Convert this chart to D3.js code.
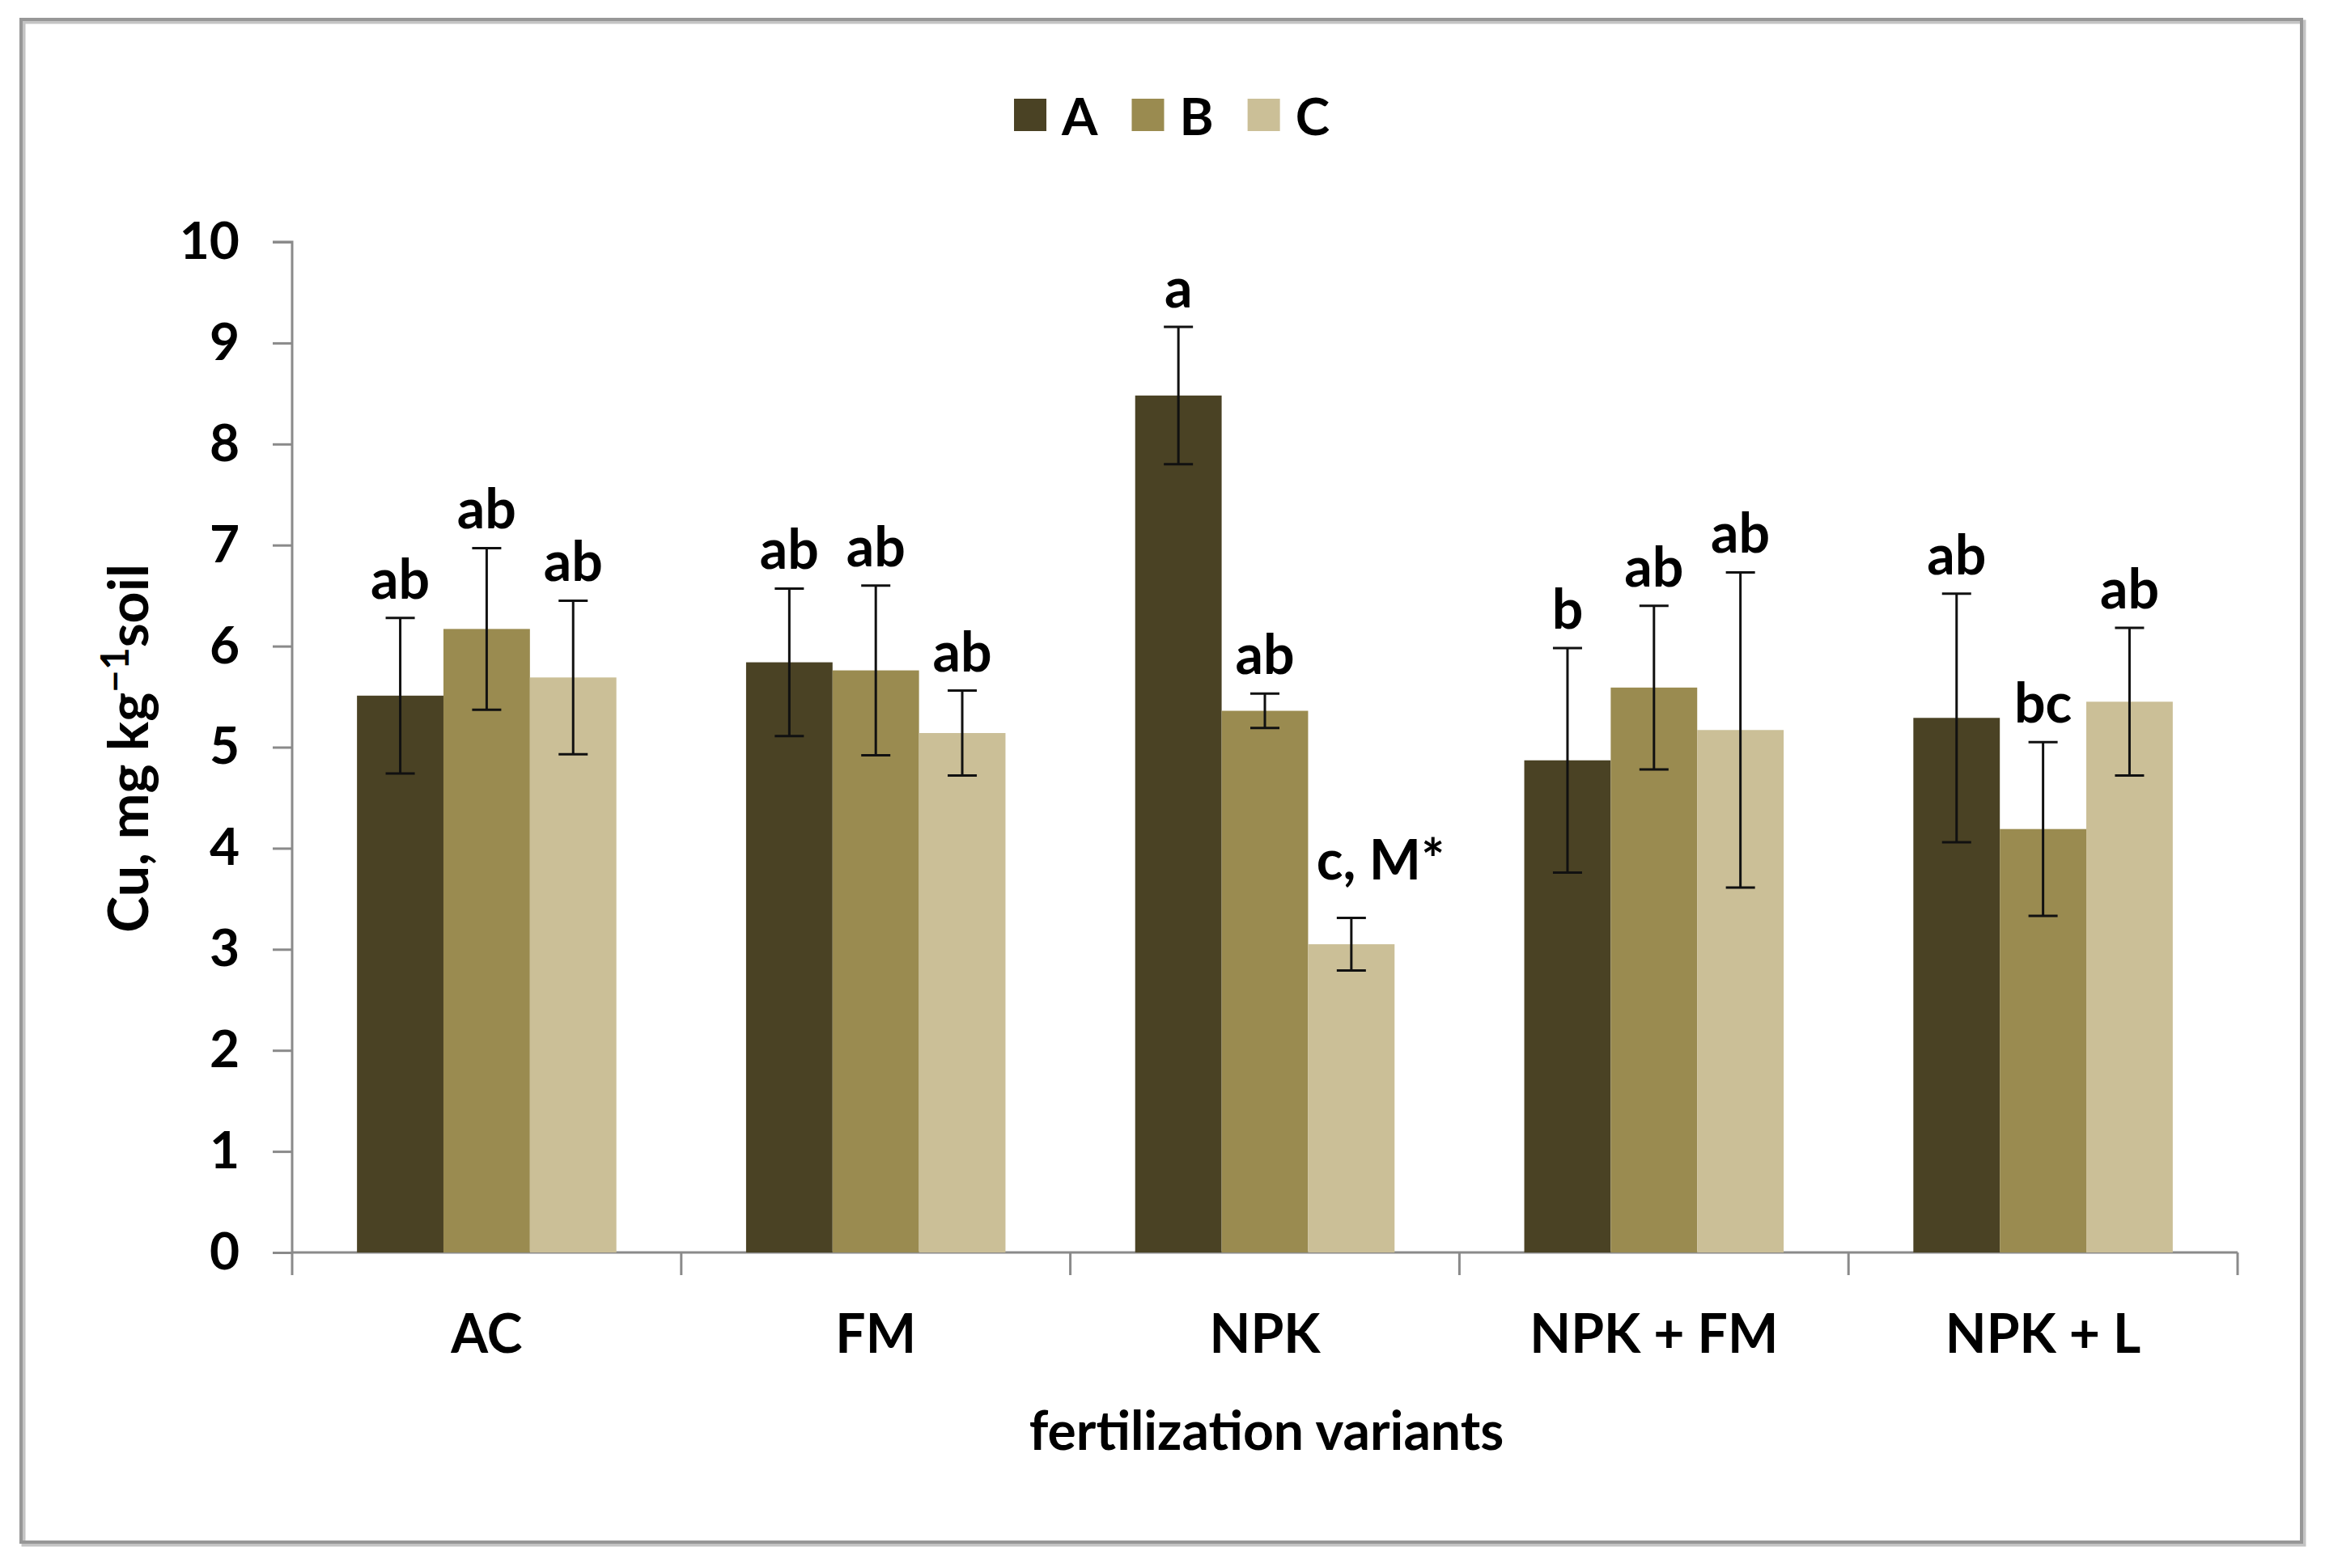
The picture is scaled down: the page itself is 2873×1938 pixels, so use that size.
<!DOCTYPE html>
<html>
<head>
<meta charset="utf-8">
<script src="https://cdn.jsdelivr.net/npm/d3@7"></script>
<style>
  body { margin: 0; background: #fff; }
  text { font-family: Lato, 'Open Sans', sans-serif; font-weight: bold; fill: #000; }
</style>
</head>
<body>
<div id="chart"></div>
<script>
const categories = ['AC', 'FM', 'NPK', 'NPK + FM', 'NPK + L']
const series = ['A', 'B', 'C']
const valuesA = [5.51, 5.84, 8.48, 4.87, 5.29]
const valuesB = [6.17, 5.76, 5.36, 5.59, 4.19]
const valuesC = [5.69, 5.14, 3.05, 5.17, 5.45]
const errorsA = [0.77, 0.73, 0.68, 1.11, 1.23]
const errorsB = [0.80, 0.84, 0.17, 0.81, 0.86]
const errorsC = [0.76, 0.42, 0.26, 1.56, 0.73]
const lettersA = ['ab', 'ab', 'a', 'b', 'ab']
const lettersB = ['ab', 'ab', 'ab', 'ab', 'bc']
const lettersC = ['ab', 'ab', 'c, M*', 'ab', 'ab']
const yTicks = [0, 1, 2, 3, 4, 5, 6, 7, 8, 9, 10]

const colors = { A: '#4a4224', B: '#9a8b50', C: '#cbbf97' }
// the long label sits a bit higher and to the right in the original
const letterShift = { 'c, M*': [36, -24] }

const rows = []
categories.forEach((cat, i) => {
  rows.push({ cat, s: 'A', v: valuesA[i], e: errorsA[i], l: lettersA[i] })
  rows.push({ cat, s: 'B', v: valuesB[i], e: errorsB[i], l: lettersB[i] })
  rows.push({ cat, s: 'C', v: valuesC[i], e: errorsC[i], l: lettersC[i] })
})

const chartWidth = 2873
const chartHeight = 1938
const margin = { top: 299, left: 361, right: 108, bottom: 390 }
const width = chartWidth - margin.left - margin.right
const height = chartHeight - margin.top - margin.bottom

const root = d3.select('#chart')
  .append('svg')
  .attr('width', chartWidth)
  .attr('height', chartHeight)

root.append('rect')
  .attr('width', chartWidth)
  .attr('height', chartHeight)
  .attr('fill', '#fff')

// outer frame
root.append('rect')
  .attr('x', 29).attr('y', 27)
  .attr('width', 2818).attr('height', 1882)
  .attr('fill', 'none')
  .attr('stroke', '#c4c4c4')
  .attr('stroke-width', 5)
root.append('rect')
  .attr('x', 26).attr('y', 24)
  .attr('width', 2818).attr('height', 1882)
  .attr('fill', 'none')
  .attr('stroke', '#979797')
  .attr('stroke-width', 4)

const svg = root.append('g')
  .attr('transform', `translate(${margin.left}, ${margin.top})`)

const x0 = d3.scaleBand().domain(categories).range([0, width]).padding(0)
const bw = x0.bandwidth()
const x1 = d3.scaleBand().domain(series).range([bw * 0.75 / 4.5, bw - bw * 0.75 / 4.5])
const y = d3.scaleLinear().domain([0, 10]).range([height, 0])

// y axis
const yAxis = svg.append('g')
  .attr('class', 'axis y-axis')
  .call(d3.axisLeft(y).tickValues(yTicks).tickSize(24).tickPadding(41))
yAxis.selectAll('path, line').attr('stroke', '#8a8a8a').attr('stroke-width', 3)
yAxis.select('.domain').attr('d', `M-24,0H0V${height}`)
yAxis.selectAll('text').style('font-size', '64px')

// x axis
const xAxis = svg.append('g')
  .attr('class', 'axis x-axis')
  .attr('transform', `translate(0, ${height})`)
  .call(d3.axisBottom(x0).tickSize(0).tickPadding(77))
xAxis.select('.domain').remove()
xAxis.selectAll('text').style('font-size', '66px')
xAxis.append('line')
  .attr('x1', 0).attr('x2', width)
  .attr('stroke', '#8a8a8a').attr('stroke-width', 3)
xAxis.selectAll('.boundary')
  .data(categories.map((c) => x0(c)).concat([width]))
  .enter()
  .append('line')
  .attr('class', 'boundary')
  .attr('x1', (d) => d).attr('x2', (d) => d)
  .attr('y1', 0).attr('y2', 28)
  .attr('stroke', '#8a8a8a').attr('stroke-width', 3)

// bars
svg.selectAll('.bar')
  .data(rows)
  .enter()
  .append('rect')
  .attr('class', 'bar')
  .attr('x', (d) => x0(d.cat) + x1(d.s))
  .attr('y', (d) => y(d.v))
  .attr('width', x1.bandwidth())
  .attr('height', (d) => height - y(d.v))
  .attr('fill', (d) => colors[d.s])

// error bars
const err = svg.selectAll('.err')
  .data(rows)
  .enter()
  .append('g')
  .attr('class', 'err')
  .attr('transform', (d) => `translate(${x0(d.cat) + x1(d.s) + x1.bandwidth() / 2}, 0)`)
  .attr('stroke', '#111')
  .attr('stroke-width', 3)
err.append('line')
  .attr('y1', (d) => y(d.v + d.e)).attr('y2', (d) => y(d.v - d.e))
err.append('line')
  .attr('x1', -18).attr('x2', 18)
  .attr('y1', (d) => y(d.v + d.e)).attr('y2', (d) => y(d.v + d.e))
err.append('line')
  .attr('x1', -18).attr('x2', 18)
  .attr('y1', (d) => y(d.v - d.e)).attr('y2', (d) => y(d.v - d.e))

// significance letters
svg.selectAll('.letter')
  .data(rows)
  .enter()
  .append('text')
  .attr('class', 'letter')
  .attr('x', (d) => x0(d.cat) + x1(d.s) + x1.bandwidth() / 2 + (letterShift[d.l] ? letterShift[d.l][0] : 0))
  .attr('y', (d) => y(d.v + d.e) - 24 + (letterShift[d.l] ? letterShift[d.l][1] : 0))
  .attr('text-anchor', 'middle')
  .style('font-size', '68px')
  .text((d) => d.l)

// axis titles
svg.append('text')
  .text('fertilization variants')
  .attr('x', 1565 - margin.left)
  .attr('y', 1792 - margin.top)
  .attr('text-anchor', 'middle')
  .style('font-size', '66px')

const yTitle = svg.append('text')
  .attr('transform', `translate(${183 - margin.left}, ${925 - margin.top})rotate(-90)`)
  .attr('text-anchor', 'middle')
  .style('font-size', '68px')
yTitle.append('tspan').text('Cu, mg kg')
yTitle.append('tspan').text('\u22121').attr('dy', -24).style('font-size', '48px')
yTitle.append('tspan').text('soil').attr('dy', 24)

// legend
const legend = root.append('g').attr('class', 'legend')
let lx = 0
series.forEach((s) => {
  const g = legend.append('g')
  g.append('rect')
    .attr('width', 40).attr('height', 40)
    .attr('y', -45)
    .attr('fill', colors[s])
  const t = g.append('text').attr('x', 59).style('font-size', '64px').text(s)
  const w = 59 + t.node().getComputedTextLength()
  g.attr('transform', `translate(${lx}, 0)`)
  lx += w + 42
})
const legendWidth = lx - 42
legend.attr('transform', `translate(${1448 - legendWidth / 2}, 167)`)
</script>
</body>
</html>
